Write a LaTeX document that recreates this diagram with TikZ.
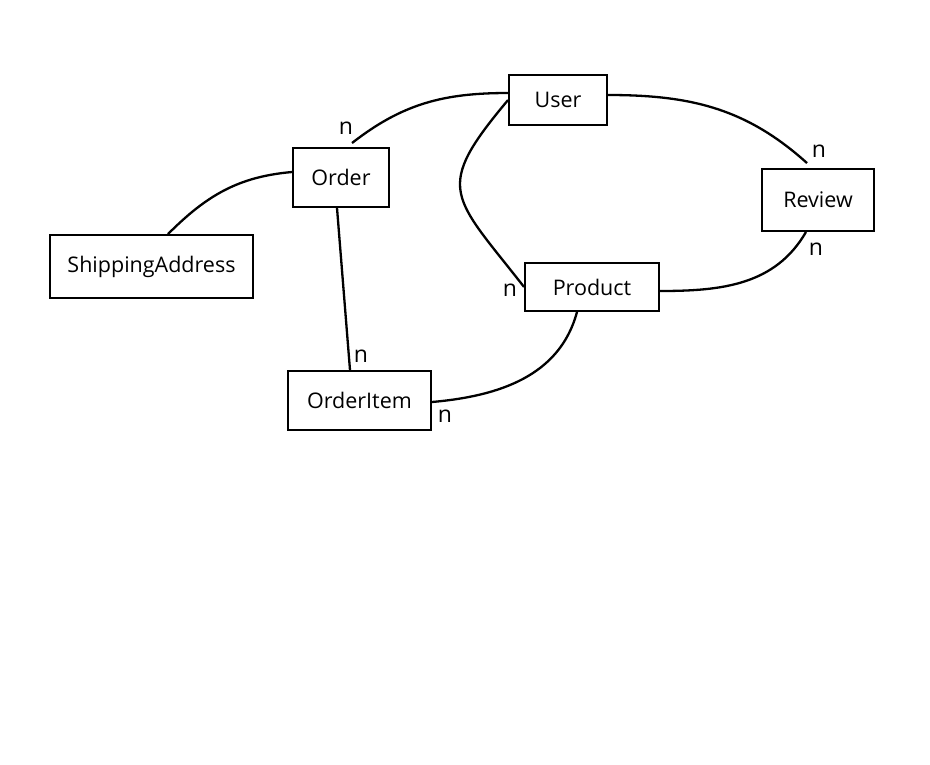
\documentclass[tikz,border=0pt]{standalone}
\usepackage{fontspec}
\setmainfont{Open Sans}
\usetikzlibrary{positioning}
\tikzset{
erd/.style={
x=1pt, y=-1pt,
every node/.style={font=\fontsize{21.5}{24}\selectfont},
entity/.style={draw, line width=1.9pt, inner sep=0pt},
rel/.style={line width=2.3pt},
card/.style={font=\fontsize{23}{26}\selectfont, inner sep=0pt},
}}

\begin{document}
\begin{tikzpicture}[erd]
\useasboundingbox[fill=white] (0,0) rectangle (930,764);
\node[entity, minimum width=98pt, minimum height=50pt] (user) at (558,100) {User};
\node[entity, minimum width=96pt, minimum height=59pt] (order) at (341,177.5) {Order};
\node[entity, minimum width=203pt, minimum height=63pt] (ship) at (151.5,266.5) {ShippingAddress};
\node[entity, minimum width=112pt, minimum height=62pt] (review) at (818,200) {Review};
\node[entity, minimum width=134pt, minimum height=48pt] (product) at (592,287) {Product};
\node[entity, minimum width=143pt, minimum height=59pt] (item) at (359.5,400.5) {OrderItem};
%
\draw[rel] ([xshift=11pt,yshift=4pt]order.north) to[out=38,in=180]
  node[card, at start, xshift=-6pt, yshift=15pt] {n} ([yshift=7pt]user.west);
\draw[rel] (user.west) to[out=230,in=128,looseness=1.6]
  node[card, at end, xshift=-14pt, yshift=-3pt] {n} (product.west);
\draw[rel] ([yshift=5pt]user.east) to[out=0,in=138]
  node[card, at end, xshift=12pt, yshift=12pt] {n} ([xshift=-11pt,yshift=5pt]review.north);
\draw[rel] ([xshift=-12pt]review.south) to[out=-120,in=0]
  node[card, at start, xshift=10pt, yshift=-17pt] {n} ([yshift=-4pt]product.east);
\draw[rel] ([xshift=-15pt]product.south) to[out=-105,in=5]
  node[card, at end, xshift=13pt, yshift=-14pt] {n} ([yshift=-1.5pt]item.east);
\draw[rel] ([xshift=-4pt]order.south) --
  node[card, at end, xshift=11pt, yshift=14pt] {n} ([xshift=-9.5pt]item.north);
\draw[rel] ([xshift=16.5pt]ship.north) to[out=45,in=185] ([yshift=5.5pt]order.west);
\end{tikzpicture}
\end{document}
